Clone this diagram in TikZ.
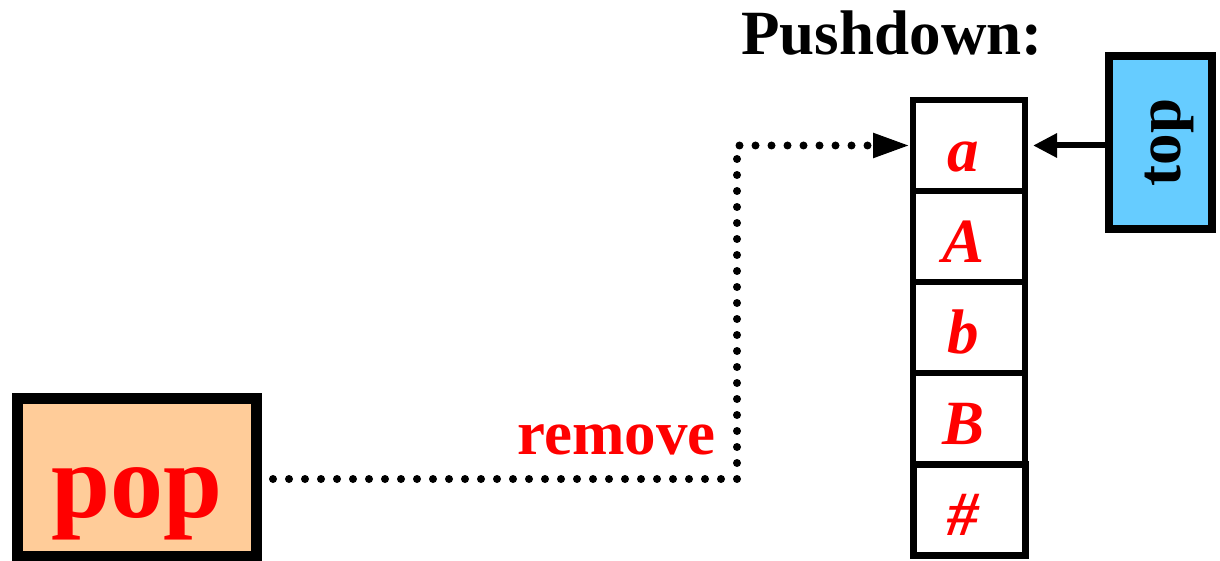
\documentclass[tikz,border=0pt]{standalone}
\usepackage{fontspec}
\setmainfont{Liberation Serif}
\usetikzlibrary{arrows.meta}
\definecolor{popfill}{HTML}{FFCC99}
\definecolor{topfill}{HTML}{66CCFF}
\definecolor{labred}{HTML}{FF0000}
\begin{document}
\begin{tikzpicture}[x=1pt,y=-1pt,
  cell/.style={draw=black, line width=6pt, minimum width=112pt, minimum height=91pt,
    inner sep=0pt, text height=52pt, text depth=0pt,
    font=\fontsize{63}{63}\selectfont\bfseries\itshape, text=labred},
  popbox/.style={draw=black, fill=popfill, line width=11pt, minimum width=239pt,
    minimum height=158pt, inner sep=0pt, text height=79pt, text depth=0pt,
    font=\fontsize{106}{106}\selectfont\bfseries, text=labred},
  topbox/.style={draw=black, fill=topfill, line width=8pt, rotate=90,
    minimum width=173pt, minimum height=103pt, inner sep=0pt,
    text height=39pt, text depth=0pt, font=\fontsize{63}{63}\selectfont\bfseries},
  biglabel/.style={inner sep=0pt, anchor=base, font=\fontsize{63}{63}\selectfont\bfseries},
  dotline/.style={line width=8pt, line cap=round, dash pattern=on 0pt off 16pt,
    -{Triangle[length=37pt,width=23pt]}},
  solidarrow/.style={line width=6pt, -{Triangle[length=24pt,width=23pt]}}
]
\useasboundingbox (0,0) rectangle (1220,561);

% stack cells
\node[cell] (ca) at (969,145.5) {\kern-12pt a};
\node[cell] (cA) at (969,236.5) {\kern-12pt A};
\node[cell] (cb) at (969,327.5) {\kern-12pt b};
\node[cell] (cB) at (969,418.5) {\kern-12pt B};
\node[cell, line width=7pt] (ch) at (969,509.5) {\kern-12pt \#};

% title
\node[biglabel] (title) at (892,55) {Pushdown:};

% top pointer
\node[topbox] (top) at (1160.5,142.5) {top};
\draw[solidarrow, shorten >=5pt] (top.north |- ca) -- (ca.east);

% pop box
\node[popbox] (pop) at (137,477.5) {pop};

% dotted connector
\coordinate (k1) at (737,479);
\coordinate (k2) at (737,145.5);
\draw[dotline, shorten <=11pt] (pop.east |- k1) -- (k1) -- (k2) -- (ca.west);

\node[biglabel, text=labred] (remove) at (616.5,454) {remove};
\end{tikzpicture}
\end{document}
